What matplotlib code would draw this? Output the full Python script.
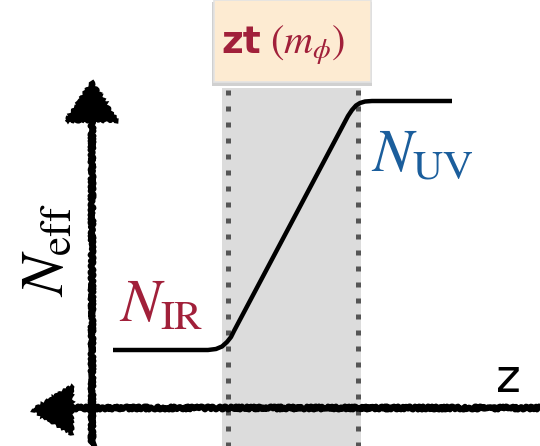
import matplotlib.pyplot as plt
from matplotlib.patches import Polygon, Rectangle

plt.rcParams['mathtext.fontset'] = 'stix'

# Schema em coordenadas do desenho (x para a direita, y para baixo)
curva_z = [113, 208, 216, 222, 227, 231, 234, 348, 352, 356, 360, 365, 372, 452]
curva_n = [350, 350, 349, 346.5, 342, 337, 331, 116, 110, 105.5, 103, 101.5, 101, 101]

faixa_z = [222, 361]          # regiao cinza
linhas_z = [228, 358]         # linhas pontilhadas
topo_faixa = 88

eixo_x = 408                  # altura do eixo horizontal
eixo_y = 92                   # posicao do eixo vertical

vermelho = '#a1203a'
azul = '#1b5e9c'

fig = plt.figure(figsize=(5.4, 4.46), dpi=100)
ax = fig.add_axes([0, 0, 1, 1])
ax.set_xlim(0, 540)
ax.set_ylim(446, 0)
ax.axis('off')

# Faixa cinza e linhas pontilhadas
ax.add_patch(Rectangle((faixa_z[0], topo_faixa), faixa_z[1] - faixa_z[0],
                       446 - topo_faixa, facecolor='#dcdcdc', edgecolor='none', zorder=1))
for xl in linhas_z:
    ax.plot([xl, xl], [topo_faixa + 2, 446], color='#555555', lw=3.6,
            linestyle=(0, (1, 2.2)), dash_capstyle='butt', zorder=2)

# Caixa do topo
ax.add_patch(Rectangle((212, 2), 160, 84, facecolor='#d0d0d0', edgecolor='none', zorder=3))
ax.add_patch(Rectangle((214, 0), 157, 82, facecolor='#fdebd2', edgecolor='#e3e3e3',
                       lw=1.2, zorder=4))
ax.text(221, 53, 'zt', color=vermelho, fontsize=27, fontweight='bold',
        family='DejaVu Sans', ha='left', va='baseline', zorder=5)
ax.text(270, 54, r'$(m_\phi)$', color=vermelho, fontsize=29,
        ha='left', va='baseline', zorder=5)

# Curva
ax.plot(curva_z, curva_n, color='black', lw=3.2, solid_joinstyle='round',
        solid_capstyle='butt', zorder=6)

# Eixos desenhados a mao
sk = (1.6, 5, 3)
l1, = ax.plot([68, 540], [eixo_x, eixo_x], color='black', lw=4.2, zorder=7)
l2, = ax.plot([eixo_y, eixo_y], [118, 444], color='black', lw=4.2, zorder=7)
l1.set_sketch_params(*sk)
l2.set_sketch_params(*sk)
t1 = Polygon([[33, 410], [72, 386], [72, 434]], closed=True, facecolor='black',
             edgecolor='black', lw=2, zorder=8)
t2 = Polygon([[92, 82], [66, 121], [117, 121]], closed=True, facecolor='black',
             edgecolor='black', lw=2, zorder=8)
for t in (t1, t2):
    t.set_sketch_params(1.2, 6, 3)
    ax.add_patch(t)

# Rotulos
ax.text(46, 250, r'$N_{\mathrm{eff}}$', fontsize=44, rotation=90,
        ha='center', va='center', color='black')
ax.text(119, 322, r'$N_{\mathrm{IR}}$', fontsize=43, color=vermelho,
        ha='left', va='baseline')
ax.text(371, 171, r'$N_{\mathrm{UV}}$', fontsize=43, color=azul,
        ha='left', va='baseline')
ax.text(496, 392, 'z', fontsize=34, family='DejaVu Sans', color='black',
        ha='left', va='baseline')

fig.savefig('out.png', dpi=100)
